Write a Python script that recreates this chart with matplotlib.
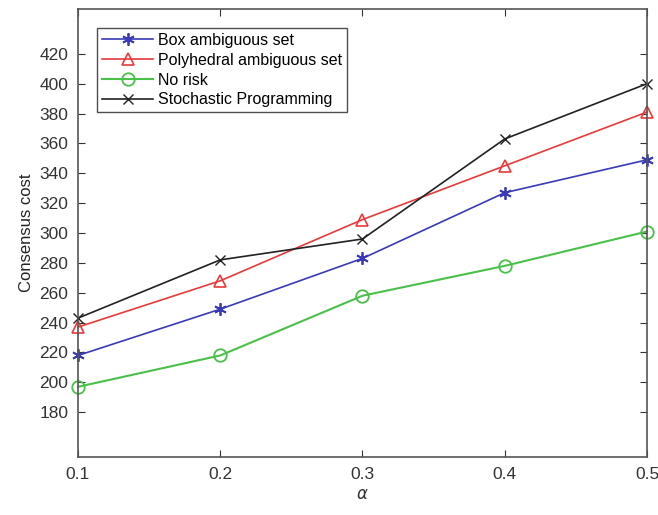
import numpy as np
import matplotlib.pyplot as plt

plt.rcParams['font.family'] = ['Liberation Sans', 'DejaVu Sans']

alpha = [0.1, 0.2, 0.3, 0.4, 0.5]
box_cost = [218, 249, 283, 327, 349]
poly_cost = [237, 268, 309, 345, 381]
no_risk_cost = [197, 218, 258, 278, 301]
sp_cost = [243, 282, 296, 363, 400]

fig = plt.figure(figsize=(6.58, 5.15), dpi=100)
ax = fig.add_axes([0.1185, 0.1126, 0.8648, 0.8699])

# MATLAB-like asterisk marker
ax.plot(alpha, box_cost, color='#3a3ab8', marker=(6, 2, 0), markersize=9, lw=1.2,
        mew=1.3, clip_on=False, label='Box ambiguous set')
ax.plot(alpha, poly_cost, color='#e83a3a', marker='^', markersize=9, lw=1.2,
        mew=1.2, markerfacecolor='none', clip_on=False, label='Polyhedral ambiguous set')
ax.plot(alpha, no_risk_cost, color='#4ac04a', marker='o', markersize=9, lw=1.5,
        mew=1.3, markerfacecolor='none', clip_on=False, label='No risk')
ax.plot(alpha, sp_cost, color='#222222', marker='x', markersize=7, lw=1.2,
        clip_on=False, label='Stochastic Programming')

ax.set_xlim(0.1, 0.5)
ax.set_ylim(150, 450)
ax.set_xticks(alpha)
ax.set_xticklabels(['0.1', '0.2', '0.3', '0.4', '0.5'])
ax.set_yticks(np.arange(180, 421, 20))
ax.tick_params(direction='in', top=True, right=True, labelsize=12.5,
               colors='#333333', length=5, pad=7)
for s in ax.spines.values():
    s.set_color('#555555')
    s.set_linewidth(1.2)

ax.set_xlabel(r'$\alpha$', fontsize=12, color='#333333')
ax.set_ylabel('Consensus cost', fontsize=12, color='#222222')

leg = ax.legend(loc='upper left', bbox_to_anchor=(0.02, 0.975), fontsize=11.5,
                fancybox=False, edgecolor='#222222', handlelength=3.2,
                borderpad=0.3, labelspacing=0.3, handletextpad=0.3)
leg.get_frame().set_linewidth(1.0)

fig.savefig('out.png', dpi=100)
